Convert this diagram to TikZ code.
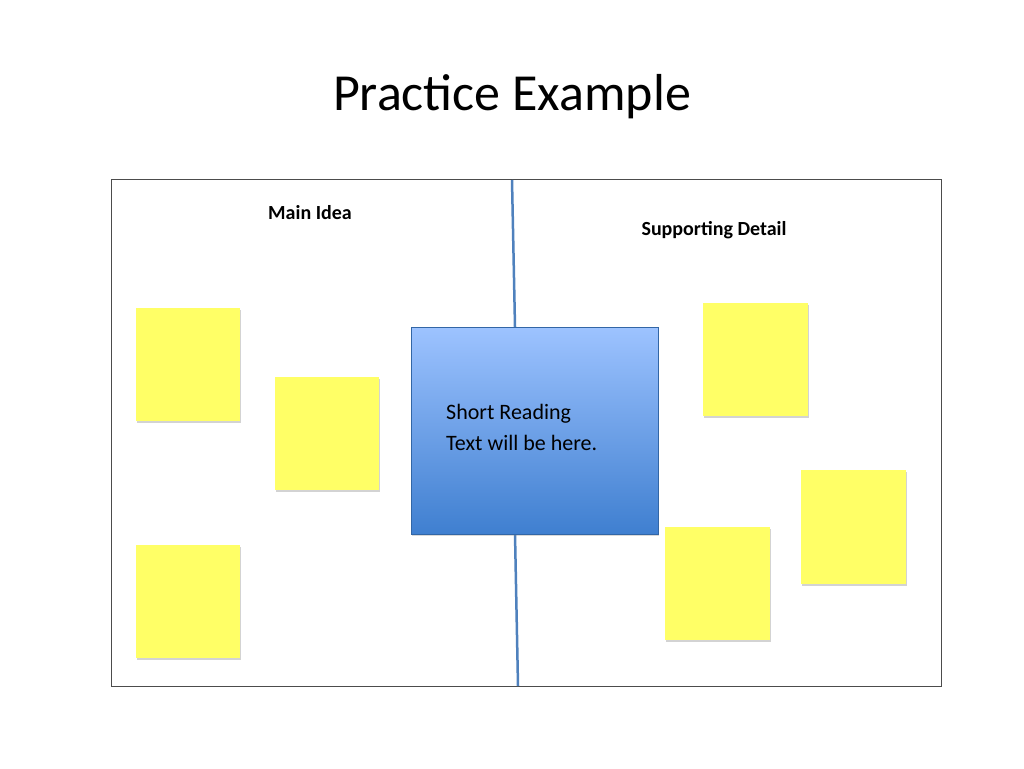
\documentclass[tikz,border=0pt]{standalone}
\usepackage{fontspec}
\setmainfont{Carlito}
\usetikzlibrary{shadows}
\definecolor{sticky}{HTML}{FFFF66}
\definecolor{divline}{HTML}{4F81BD}
\definecolor{boxtop}{HTML}{9DC3FF}
\definecolor{boxbot}{HTML}{3F7FD0}
\begin{document}
\begin{tikzpicture}[x=1pt,y=-1pt,
  note/.style={fill=sticky,draw=none,drop shadow={shadow xshift=1pt,shadow yshift=-1.5pt,opacity=0.35}},
  lbl/.style={font=\fontsize{20}{24}\selectfont\bfseries}]
\useasboundingbox (0,0) rectangle (1024,768);
\node (title) at (512,97) {\fontsize{52}{60}\selectfont Practice Example};
\draw[draw=black!70,line width=1pt] (111,179) rectangle (941,686);
\coordinate (t1) at (512,180); \coordinate (t2) at (515,327);
\coordinate (b1) at (515,534); \coordinate (b2) at (518,686);
\draw[divline,line width=2.5pt] (t1) -- (t2);
\draw[divline,line width=2.5pt] (b1) -- (b2);
\shade[top color=boxtop,bottom color=boxbot,drop shadow={shadow xshift=1pt,shadow yshift=-1.5pt,opacity=0.3}] (411,327) rectangle (658,534);
\draw[draw=boxbot!80!black,line width=0.8pt] (411,327) rectangle (658,534);
\node[anchor=north west,align=left,inner sep=0pt,font=\fontsize{22}{31}\selectfont] (txt) at (446,404) {Short Reading\\Text will be here.};
\node[lbl] (main) at (310,213) {Main Idea};
\node[lbl] (supp) at (714,230) {Supporting Detail};
\fill[note] (136,308) rectangle (240,421);
\fill[note] (275,377) rectangle (379,490);
\fill[note] (136,545) rectangle (240,658);
\fill[note] (703,303) rectangle (808,416);
\fill[note] (801,470) rectangle (906,584);
\fill[note] (665,527) rectangle (770,640);
\end{tikzpicture}
\end{document}
